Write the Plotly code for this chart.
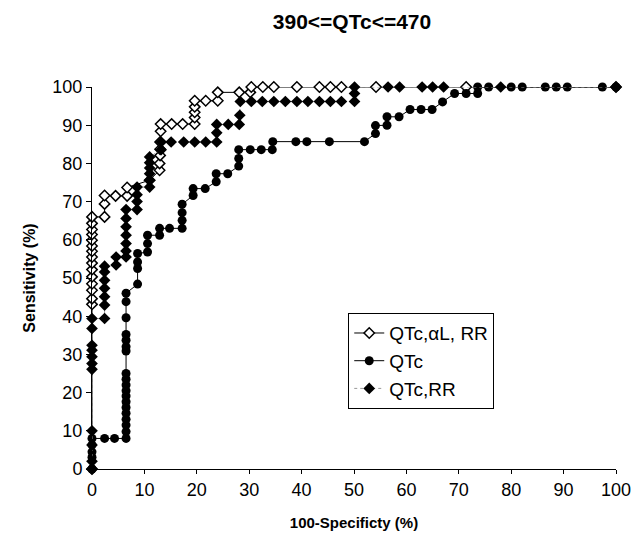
import plotly.graph_objects as go

# ---- data ----
# Series 1: QTc,αL, RR (open diamonds)
qal_x = [0, 0, 0, 0, 0, 0, 0, 0, 0, 0, 0, 0, 0, 0, 0, 0,
         2.4, 2.4, 2.4, 4.5, 6.7, 6.7, 11, 12.9, 12.9, 13.0, 13.0, 13.0, 13.1, 13.1,
         15.2, 17.3, 19.6, 19.6, 19.6, 19.6, 19.6, 21.7, 24.0, 24.0, 28.1, 30.2, 30.4,
         32.6, 34.7, 39.1, 43.4, 45.5, 47.6, 54.2, 71.4, 100]
qal_y = [0, 43.1, 44.6, 46.8, 48.5, 50.3, 52.2, 53.9, 55.5, 57.0, 58.4, 59.9, 61.4, 62.7, 64.3, 66.0,
         66.0, 69.4, 71.6, 71.5, 71.5, 73.7, 75.6, 78.2, 80.0, 82.1, 83.7, 85.6, 88.4, 90.3,
         90.3, 90.3, 90.3, 92.0, 93.4, 94.8, 96.4, 96.4, 96.4, 98.6, 98.6, 98.6, 100,
         100, 100, 100, 100, 100, 100, 100, 100, 100]

# Series 2: QTc (filled circles)
qtc_x = [0, 0, 0, 0, 0, 2.4, 4.3,
         6.5, 6.5, 6.5, 6.5, 6.5, 6.5, 6.5, 6.5, 6.5, 6.5, 6.5, 6.5, 6.5, 6.5, 6.5, 6.5, 6.5, 6.5, 6.5,
         8.7, 8.7, 8.7, 8.7, 10.6, 10.6, 10.6, 12.9, 12.9, 14.8, 17.2, 17.2, 17.2, 17.2,
         19.3, 19.3, 21.6, 23.7, 23.7, 25.9, 28.0, 28.0, 28.0, 30.2, 32.3, 34.4, 34.5,
         38.9, 41.0, 45.3, 52.0, 54.1, 54.1, 56.3, 56.3, 58.6, 60.7, 62.8, 64.9, 66.9,
         69.2, 71.4, 73.6, 73.6, 75.7, 80.0, 82.1, 86.5, 88.6, 90.7, 97.4, 100]
qtc_y = [0, 3.1, 4.5, 6.3, 8.0, 8.0, 8.0,
         8.0, 9.8, 11.5, 13.0, 14.6, 16.1, 17.6, 19.1, 20.5, 22.0, 23.5, 25.0, 30.9, 32.0, 33.7, 35.2, 39.6, 43.8, 46.0,
         48.4, 52.5, 54.2, 56.4, 56.8, 59.0, 61.2, 61.2, 63.0, 63.0, 63.0, 65.1, 67.1, 69.3,
         71.6, 73.4, 73.4, 75.2, 77.3, 77.3, 79.3, 81.3, 83.6, 83.6, 83.6, 83.6, 85.7,
         85.7, 85.7, 85.7, 85.7, 87.8, 89.9, 90.0, 92.2, 92.2, 94.1, 94.1, 94.1, 96.1,
         98.3, 98.3, 98.3, 100, 100, 100, 100, 100, 100, 100, 100, 100]

# Series 3: QTc,RR (filled diamonds)
qrr_x = [0, 0, 0, 0, 0, 0, 0, 0, 0, 0, 0, 2.4, 2.4, 2.4, 2.4, 2.4, 2.4, 2.4,
         4.6, 4.6, 6.5, 6.5, 6.5, 6.5, 6.5, 6.5, 6.5, 8.6, 8.6, 8.6, 8.6,
         11, 11, 11, 11, 11, 11, 13.2, 13.2, 15.1, 17.5, 19.6, 21.7, 23.8, 23.8, 23.8,
         26.0, 28.1, 28.2, 28.3, 30.4, 32.5, 34.7, 36.9, 39.1, 41.2, 43.4, 45.5, 47.6,
         50.1, 50.1, 50.1, 56.5, 58.7, 63.0, 65.0, 67.1, 78.0, 100]
qrr_y = [0, 2.0, 6.3, 10.0, 26.1, 27.6, 29.4, 31.1, 32.4, 36.8, 39.4, 39.4, 42.9, 45.1, 47.3, 49.4, 51.6, 53.1,
         53.4, 55.5, 55.5, 57.1, 59.0, 61.2, 63.4, 65.6, 67.9, 67.9, 70.0, 71.8, 73.8,
         73.8, 75.6, 77.3, 78.8, 80.2, 81.7, 83.6, 85.6, 85.6, 85.6, 85.6, 85.6, 85.6, 88.0, 90.2,
         90.2, 90.2, 92.6, 96.2, 96.2, 96.2, 96.2, 96.2, 96.2, 96.2, 96.2, 96.2, 96.2,
         96.2, 98.3, 100, 100, 100, 100, 100, 100, 100, 100]

x_ticks = [0, 10, 20, 30, 40, 50, 60, 70, 80, 90, 100]
y_ticks = [0, 10, 20, 30, 40, 50, 60, 70, 80, 90, 100]

FONT = "Liberation Sans, Arial, sans-serif"

fig = go.Figure()
fig.add_trace(go.Scatter(
    x=qal_x, y=qal_y, mode="lines+markers", name="QTc,αL, RR",
    line=dict(color="black", width=1),
    marker=dict(symbol="diamond", size=8, color="white", line=dict(color="black", width=1.5)),
    cliponaxis=False))
fig.add_trace(go.Scatter(
    x=qtc_x, y=qtc_y, mode="lines+markers", name="QTc",
    line=dict(color="black", width=1),
    marker=dict(symbol="circle", size=9, color="black"),
    cliponaxis=False))
fig.add_trace(go.Scatter(
    x=qrr_x, y=qrr_y, mode="lines+markers", name="QTc,RR",
    line=dict(color="#999999", width=1, dash="dot"),
    marker=dict(symbol="diamond", size=9, color="black"),
    cliponaxis=False))

fig.update_layout(
    width=643, height=552,
    margin=dict(l=84, r=35, t=79, b=91),
    paper_bgcolor="white", plot_bgcolor="white",
    font=dict(family=FONT, color="black"),
    title=dict(text="<b>390<=QTc<=470</b>", x=0.535, xanchor="center",
               y=1 - 14 / 552, yanchor="middle", font=dict(size=21, family=FONT)),
    showlegend=True,
    legend=dict(x=0.489, y=0.408, xanchor="left", yanchor="top",
                bordercolor="black", borderwidth=1, bgcolor="white",
                font=dict(size=19, family=FONT), tracegroupgap=0),
    xaxis=dict(range=[0, 100], tickvals=x_ticks, ticktext=[str(v) for v in x_ticks],
               showgrid=False, zeroline=False, showline=True, linecolor="black", linewidth=1,
               ticks="outside", ticklen=4, tickcolor="black",
               tickfont=dict(size=18, family=FONT),
               title=dict(text="<b>100-Specificty (%)</b>", font=dict(size=15, family=FONT), standoff=18)),
    yaxis=dict(range=[0, 100], tickvals=y_ticks, ticktext=[str(v) for v in y_ticks],
               showgrid=False, zeroline=False, showline=True, linecolor="black", linewidth=1,
               ticks="outside", ticklen=5, tickcolor="black",
               tickfont=dict(size=18, family=FONT),
               title=dict(text="<b>Sensitivity (%)</b>", font=dict(size=16, family=FONT), standoff=12)),
)

fig.write_html("out.html")
